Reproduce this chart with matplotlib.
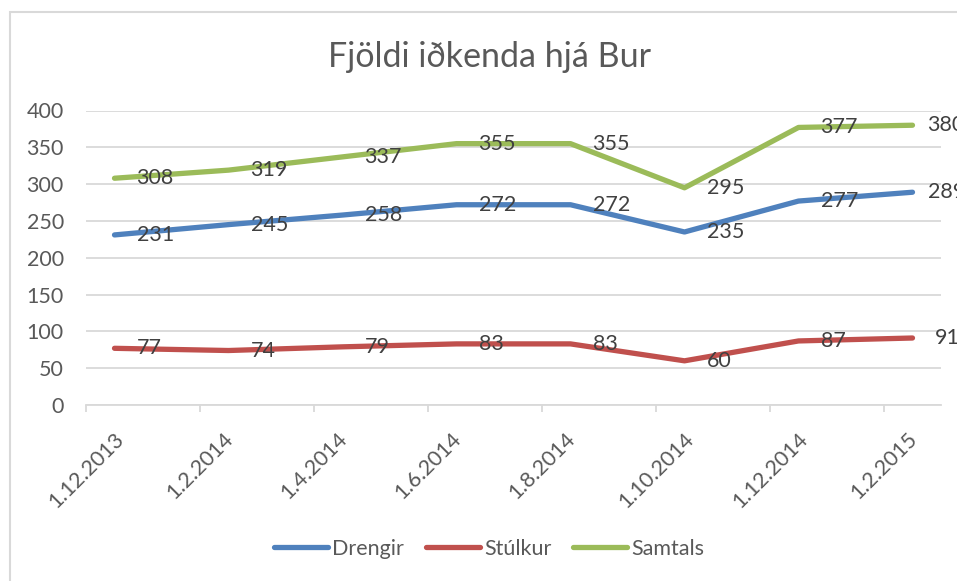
import matplotlib
matplotlib.use("Agg")
import matplotlib.pyplot as plt
from matplotlib.patches import Rectangle

plt.rcParams['font.family'] = ['Lato', 'DejaVu Sans']

# data
dates = ["1.12.2013", "1.2.2014", "1.4.2014", "1.6.2014",
         "1.8.2014", "1.10.2014", "1.12.2014", "1.2.2015"]
drengir = [231, 245, 258, 272, 272, 235, 277, 289]
stulkur = [77, 74, 79, 83, 83, 60, 87, 91]
samtals = [308, 319, 337, 355, 355, 295, 377, 380]
tick_labels = ["1.12.2013", "1.2.2014", "1.4.2014", "1.6.2014",
               "1.8.2014", "1.10.2014", "1.12.2014", "1.2.2015"]

series = [
    (drengir, "Drengir", "#4F81BD"),
    (stulkur, "Stúlkur", "#C0504D"),
    (samtals, "Samtals", "#9BBB59"),
]

FS = 15.5


def month_index(d):
    day, month, year = [int(p) for p in d.split(".")]
    return (year - 2013) * 12 + (month - 12)


# monthly date axis: each point sits in the middle of its month
x = [month_index(d) + 0.5 for d in dates]
tick_pos = [month_index(d) for d in tick_labels]

fig = plt.figure(figsize=(9.57, 5.81), dpi=100)
ax = fig.add_axes([86 / 957, 1 - 405 / 581, (941 - 86) / 957, (405 - 110.5) / 581])

for vals, label, color in series:
    ax.plot(x, vals, color=color, lw=3.8, solid_capstyle='round',
            solid_joinstyle='round', label=label, zorder=3)
    for i, (xi, v) in enumerate(zip(x, vals)):
        # last labels sit a bit closer to the point (they run off the edge)
        dx = 15 if (i == len(x) - 1 and v > 100) else 22
        ax.annotate(str(v), (xi, v), xytext=(dx, 0), textcoords='offset pixels',
                    ha='left', va='center', fontsize=FS, color='#404040',
                    zorder=4, annotation_clip=False)

ax.set_xlim(0, 15)
ax.set_ylim(0, 400)
ax.set_yticks(range(0, 401, 50))
ax.set_xticks(tick_pos)
ax.set_xticklabels(tick_labels, rotation=45, ha='center', va='top')
ax.grid(axis='y', color='#D9D9D9', lw=1.3)
ax.set_axisbelow(True)
for s in ['top', 'right', 'left']:
    ax.spines[s].set_visible(False)
ax.spines['bottom'].set_color('#D9D9D9')
ax.spines['bottom'].set_linewidth(1.3)
ax.tick_params(axis='y', length=0, pad=16, labelsize=FS, labelcolor='#595959')
ax.tick_params(axis='x', length=5, width=1.3, color='#D9D9D9', pad=12,
               labelsize=FS, labelcolor='#595959')

fig.text(490 / 957, 1 - 57 / 581, "Fjöldi iðkenda hjá Bur", ha='center',
         va='center', fontsize=24.5, color='#595959')

ax.legend(loc='center', bbox_to_anchor=(489 / 957, 1 - 549 / 581),
          bbox_transform=fig.transFigure, ncol=3, frameon=False,
          fontsize=15.5, labelcolor='#595959', handlelength=2.5,
          handletextpad=0.2, columnspacing=1.0)

fig.patches.append(Rectangle((10 / 957, -0.1), 1.1, 1 - 12 / 581 + 0.1,
                             transform=fig.transFigure, fill=False,
                             edgecolor='#D9D9D9', lw=1.5))

fig.savefig("out.png", dpi=100)
